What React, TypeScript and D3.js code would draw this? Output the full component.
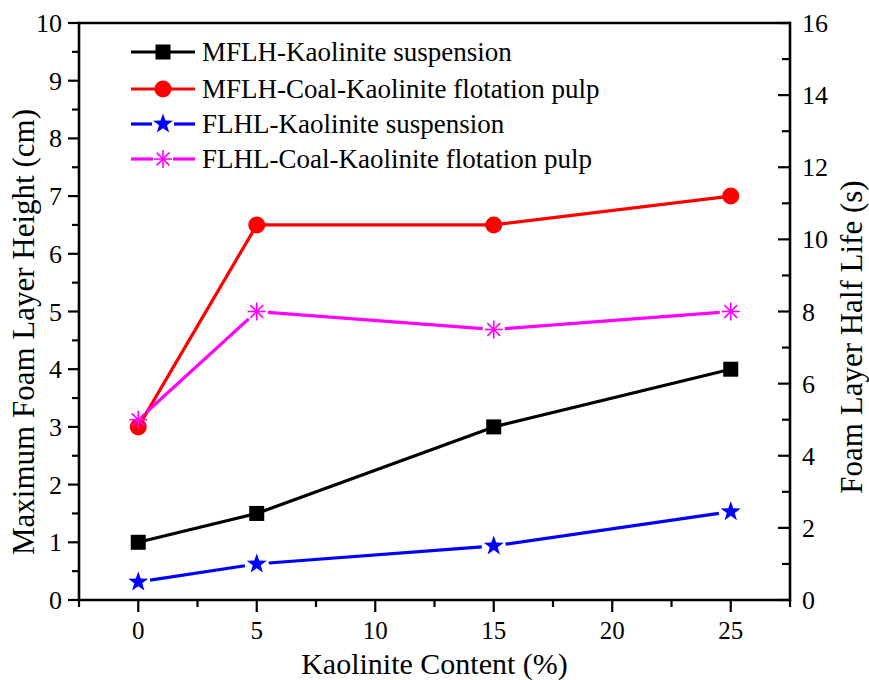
import React from "react";
import * as d3 from "d3";

const kaolinite = [0, 5, 15, 25];
const mflhKaolinite = [1, 1.5, 3, 4];
const mflhCoal = [3, 6.5, 6.5, 7];
const flhlKaolinite = [0.5, 1, 1.5, 2.45];
const flhlCoal = [5, 8, 7.5, 8];

const xMajorTicks = [0, 5, 10, 15, 20, 25];
const leftTicks = [0, 1, 2, 3, 4, 5, 6, 7, 8, 9, 10];
const rightTicks = [0, 2, 4, 6, 8, 10, 12, 14, 16];

const seriesNames = [
  "MFLH-Kaolinite suspension",
  "MFLH-Coal-Kaolinite flotation pulp",
  "FLHL-Kaolinite suspension",
  "FLHL-Coal-Kaolinite flotation pulp",
];

const W = 869;
const H = 680;
const L = 79, R = 790, T = 23, B = 600;
const FONT = "'Liberation Serif', 'Times New Roman', serif";

type Marker = "square" | "circle" | "star" | "asterisk";

function starPath(R0: number) {
  const r = R0 * 0.4;
  const pts: string[] = [];
  for (let i = 0; i < 10; i++) {
    const a = -Math.PI / 2 + (i * Math.PI) / 5;
    const rr = i % 2 === 0 ? R0 : r;
    pts.push(`${(Math.cos(a) * rr).toFixed(2)},${(Math.sin(a) * rr).toFixed(2)}`);
  }
  return "M" + pts.join("L") + "Z";
}

function MarkerShape({ type, x, y, color }: { type: Marker; x: number; y: number; color: string }) {
  if (type === "square") return <rect x={x - 7.5} y={y - 7.5} width={15} height={15} fill={color} />;
  if (type === "circle") return <circle cx={x} cy={y} r={8.5} fill={color} />;
  if (type === "star") return <path d={starPath(10.5)} transform={`translate(${x},${y})`} fill={color} />;
  const r = 9;
  const d = r * Math.SQRT1_2;
  return (
    <g stroke={color} strokeWidth={1.6} transform={`translate(${x},${y})`}>
      <line x1={0} y1={-r} x2={0} y2={r} />
      <line x1={-r} y1={0} x2={r} y2={0} />
      <line x1={-d} y1={-d} x2={d} y2={d} />
      <line x1={-d} y1={d} x2={d} y2={-d} />
    </g>
  );
}

export default function App() {
  const x = d3.scaleLinear().domain([-2.5, 27.5]).range([L, R]);
  const yL = d3.scaleLinear().domain([0, 10]).range([B, T]);
  const yR = d3.scaleLinear().domain([0, 16]).range([B, T]);

  const series: { vals: number[]; scale: any; color: string; marker: Marker; gap: number }[] = [
    { vals: mflhKaolinite, scale: yL, color: "#000000", marker: "square", gap: 0 },
    { vals: mflhCoal, scale: yL, color: "#ff0000", marker: "circle", gap: 0 },
    { vals: flhlKaolinite, scale: yR, color: "#0000ff", marker: "star", gap: 12 },
    { vals: flhlCoal, scale: yR, color: "#ff00ff", marker: "asterisk", gap: 11 },
  ];

  const xMinor = d3.range(-2.5, 28, 2.5).filter((v) => v % 5 !== 0);
  const leftMinor = d3.range(0.5, 10, 1);
  const rightMinor = d3.range(1, 16, 2);

  const lineGen = d3.line<[number, number]>().x((d) => d[0]).y((d) => d[1]);

  const segs = (pts: [number, number][], gap: number) => {
    const out: [number, number][][] = [];
    for (let i = 0; i < pts.length - 1; i++) {
      const [x1, y1] = pts[i];
      const [x2, y2] = pts[i + 1];
      const len = Math.hypot(x2 - x1, y2 - y1);
      const ux = (x2 - x1) / len, uy = (y2 - y1) / len;
      out.push([
        [x1 + ux * gap, y1 + uy * gap],
        [x2 - ux * gap, y2 - uy * gap],
      ]);
    }
    return out;
  };

  const legY = [52, 89, 124, 159];
  const legX1 = 131, legX2 = 195, legMid = 163;

  return (
    <svg width={W} height={H} style={{ position: "absolute", left: 0, top: 0, background: "#fff" }} fontFamily={FONT}>
      <rect x={0} y={0} width={W} height={H} fill="#fff" />
      {/* data lines */}
      {series.map((s, si) => {
        const pts = kaolinite.map((k, i) => [x(k), s.scale(s.vals[i])] as [number, number]);
        return (
          <g key={si}>
            {segs(pts, s.gap).map((sg, j) => (
              <path key={j} d={lineGen(sg) || ""} stroke={s.color} strokeWidth={3.2} fill="none" strokeLinecap="butt" />
            ))}
            {pts.map((p, j) => (
              <MarkerShape key={j} type={s.marker} x={p[0]} y={p[1]} color={s.color} />
            ))}
          </g>
        );
      })}

      {/* frame */}
      <g stroke="#000" strokeWidth={2.6} fill="none">
        <line x1={L} y1={T} x2={R} y2={T} />
        <line x1={L} y1={T - 1.3} x2={L} y2={B + 1.3} />
        <line x1={R} y1={T - 1.3} x2={R} y2={B + 1.3} />
        <line x1={L} y1={B} x2={R} y2={B} />
      </g>

      {/* ticks */}
      <g stroke="#000" strokeWidth={2.2}>
        {xMajorTicks.map((t) => (
          <line key={t} x1={x(t)} y1={B} x2={x(t)} y2={B + 12} />
        ))}
        {xMinor.map((t) => (
          <line key={t} x1={x(t)} y1={B} x2={x(t)} y2={B + 7} />
        ))}
        {leftTicks.map((t) => (
          <line key={t} x1={L} y1={yL(t)} x2={L - 11} y2={yL(t)} />
        ))}
        {leftMinor.map((t) => (
          <line key={t} x1={L} y1={yL(t)} x2={L - 7} y2={yL(t)} />
        ))}
        {rightTicks.map((t) => (
          <line key={t} x1={R} y1={yR(t)} x2={R - 12} y2={yR(t)} />
        ))}
        {rightMinor.map((t) => (
          <line key={t} x1={R} y1={yR(t)} x2={R - 8} y2={yR(t)} />
        ))}
      </g>

      {/* tick labels */}
      <g fontSize={26} fill="#000">
        {xMajorTicks.map((t) => (
          <text key={t} x={x(t)} y={B + 39} fontSize={25} textAnchor="middle">{t}</text>
        ))}
        {leftTicks.map((t) => (
          <text key={t} x={62} y={yL(t) + 9} textAnchor="end">{t}</text>
        ))}
        {rightTicks.map((t) => (
          <text key={t} x={802} y={yR(t) + 9} textAnchor="start">{t}</text>
        ))}
      </g>

      {/* axis titles */}
      <text x={(L + R) / 2} y={674} fontSize={30} textAnchor="middle">Kaolinite Content (%)</text>
      <text transform={`translate(34,332) rotate(-90)`} fontSize={31} textAnchor="middle">Maximum Foam Layer Height (cm)</text>
      <text transform={`translate(862,337) rotate(-90)`} fontSize={31} textAnchor="middle">Foam Layer Half Life (s)</text>

      {/* legend */}
      {series.map((s, i) => (
        <g key={i}>
          {s.gap > 0 ? (
            <>
              <line x1={legX1} y1={legY[i]} x2={legMid - s.gap + 1} y2={legY[i]} stroke={s.color} strokeWidth={3.2} />
              <line x1={legMid + s.gap - 1} y1={legY[i]} x2={legX2} y2={legY[i]} stroke={s.color} strokeWidth={3.2} />
            </>
          ) : (
            <line x1={legX1} y1={legY[i]} x2={legX2} y2={legY[i]} stroke={s.color} strokeWidth={3.2} />
          )}
          <MarkerShape type={s.marker} x={legMid} y={legY[i]} color={s.color} />
          <text x={202} y={legY[i] + 9} fontSize={27} fill="#000">{seriesNames[i]}</text>
        </g>
      ))}
    </svg>
  );
}
